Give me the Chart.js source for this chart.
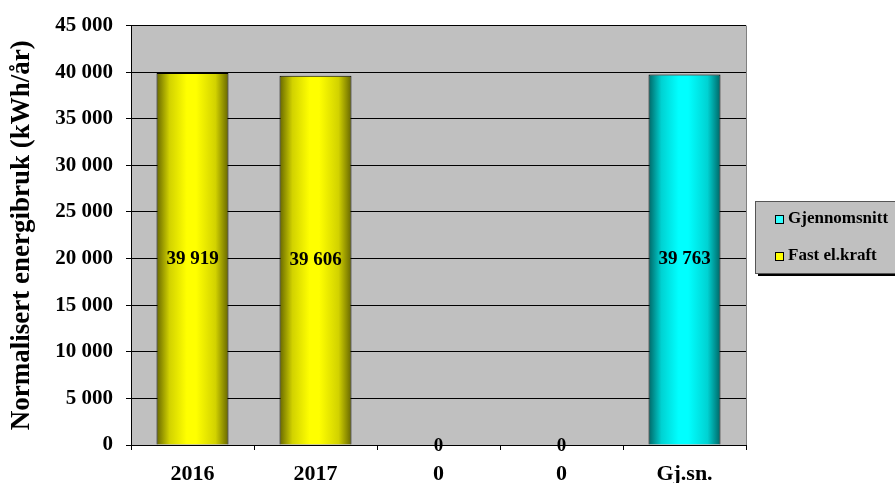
<!DOCTYPE html>
<html>
<head>
<meta charset="utf-8">
<script src="https://cdn.jsdelivr.net/npm/chart.js@4/dist/chart.umd.min.js"></script>
<style>
  html, body { margin: 0; padding: 0; background: #fff; }
  #wrap { width: 895px; height: 483px; }
</style>
</head>
<body>
<div id="wrap"><canvas id="chart" width="895" height="483"></canvas></div>
<script>
const categories = [`2016`, `2017`, `0`, `0`, `Gj.sn.`];
const fastElKraft = [39919, 39606, 0, 0, null];
const gjennomsnitt = [null, null, null, null, 39763];
const yTicks = [0, 5000, 10000, 15000, 20000, 25000, 30000, 35000, 40000, 45000];

const FONT = `"Liberation Serif", "Times New Roman", serif`;

const fmt = (v) => String(v).replace(/\B(?=(\d{3})+(?!\d))/g, ` `);

const cylinder = (ctx, x0, x1, dark, mid, light) => {
  const g = ctx.createLinearGradient(x0, 0, x1, 0);
  g.addColorStop(0, dark);
  g.addColorStop(0.18, mid);
  g.addColorStop(0.42, light);
  g.addColorStop(0.55, light);
  g.addColorStop(0.82, mid);
  g.addColorStop(1, dark);
  return g;
};

const shades = {
  yellow: [`#666600`, `#d2d200`, `#ffff00`],
  cyan: [`#006666`, `#00d2d2`, `#00ffff`]
};

// gray plot area, right border, cylinder shading per bar
const plotBg = {
  id: `plotBg`,
  beforeDraw(chart) {
    const {ctx, chartArea: a} = chart;
    ctx.save();
    ctx.fillStyle = `#c0c0c0`;
    ctx.fillRect(a.left, a.top, a.right - a.left, a.bottom - a.top);
    ctx.strokeStyle = `#808080`;
    ctx.lineWidth = 1;
    ctx.beginPath();
    ctx.moveTo(a.right + 0.5, a.top);
    ctx.lineTo(a.right + 0.5, a.bottom);
    ctx.stroke();
    ctx.restore();
  },
  beforeDatasetsDraw(chart) {
    const ctx = chart.ctx;
    chart.data.datasets.forEach((ds, i) => {
      const s = shades[ds.shade];
      chart.getDatasetMeta(i).data.forEach((el) => {
        const x0 = el.x - el.width / 2;
        // options can be shared + frozen, so give each bar its own copy
        el.options = Object.assign({}, el.options, {
          backgroundColor: cylinder(ctx, x0, x0 + el.width, s[0], s[1], s[2])
        });
      });
    });
  }
};

const valueLabels = {
  id: `valueLabels`,
  afterDatasetsDraw(chart) {
    const ctx = chart.ctx;
    ctx.save();
    ctx.font = `bold 19px ${FONT}`;
    ctx.fillStyle = `#000`;
    ctx.textAlign = `center`;
    ctx.textBaseline = `middle`;
    chart.data.datasets.forEach((ds, i) => {
      chart.getDatasetMeta(i).data.forEach((el, j) => {
        const v = ds.data[j];
        if (v === null) return;
        const y = v === 0 ? el.base + 1 : (el.y + el.base) / 2;
        ctx.fillText(fmt(v), el.x, y);
      });
    });
    ctx.restore();
  }
};

const boxLegend = {
  id: `boxLegend`,
  afterDraw(chart) {
    const ctx = chart.ctx;
    const x = 755, y = 201, w = 145, h = 72;
    ctx.save();
    ctx.fillStyle = `#000`;
    ctx.fillRect(x + 3, y + 3, w, h);
    ctx.fillStyle = `#c0c0c0`;
    ctx.fillRect(x, y, w, h);
    ctx.strokeStyle = `#555`;
    ctx.lineWidth = 1;
    ctx.strokeRect(x + 0.5, y + 0.5, w, h);
    ctx.font = `bold 17px ${FONT}`;
    ctx.textBaseline = `middle`;
    ctx.textAlign = `left`;
    const rows = [
      {label: chart.data.datasets[0].label, color: `#33ffff`, cy: 219},
      {label: chart.data.datasets[1].label, color: `#ffff00`, cy: 256}
    ];
    rows.forEach((r) => {
      ctx.fillStyle = r.color;
      ctx.fillRect(775, r.cy - 4, 8, 8);
      ctx.strokeStyle = `#000`;
      ctx.strokeRect(775.5, r.cy - 3.5, 8, 8);
      ctx.fillStyle = `#000`;
      ctx.fillText(r.label, 788, r.cy);
    });
    ctx.restore();
  }
};

new Chart(document.getElementById(`chart`), {
  type: `bar`,
  data: {
    labels: categories,
    datasets: [
      {
        label: `Gjennomsnitt`,
        data: gjennomsnitt,
        shade: `cyan`,
        backgroundColor: `#00ffff`,
        borderColor: `#000`,
        borderWidth: 1,
        barPercentage: 0.585,
        categoryPercentage: 1
      },
      {
        label: `Fast el.kraft`,
        data: fastElKraft,
        shade: `yellow`,
        backgroundColor: `#ffff00`,
        borderColor: `#000`,
        borderWidth: 1,
        barPercentage: 0.585,
        categoryPercentage: 1
      }
    ]
  },
  options: {
    responsive: false,
    animation: false,
    layout: {padding: {left: 6, top: 23, right: 149, bottom: 0}},
    plugins: {
      legend: {display: false},
      tooltip: {enabled: false}
    },
    scales: {
      x: {
        stacked: true,
        afterFit: (s) => { s.height = 38; },
        grid: {
          offset: true,
          drawOnChartArea: false,
          drawTicks: true,
          tickLength: 5,
          color: `#000`
        },
        border: {color: `#000`, width: 1},
        ticks: {
          color: `#000`,
          padding: 11,
          font: {family: FONT, size: 22, weight: `bold`}
        }
      },
      y: {
        stacked: true,
        min: 0,
        max: 45000,
        afterFit: (s) => { s.width = 125; },
        afterBuildTicks: (s) => { s.ticks = yTicks.map((v) => ({value: v})); },
        grid: {
          color: `#000`,
          lineWidth: 1,
          drawTicks: true,
          tickLength: 5
        },
        border: {color: `#000`, width: 1},
        ticks: {
          color: `#000`,
          padding: 13,
          font: {family: FONT, size: 21, weight: `bold`},
          callback: (v) => fmt(v)
        },
        title: {
          display: true,
          text: `Normalisert energibruk (kWh/år)`,
          color: `#000`,
          padding: {top: 0, bottom: 0},
          font: {family: FONT, size: 27, weight: `bold`}
        }
      }
    }
  },
  plugins: [plotBg, valueLabels, boxLegend]
});
</script>
</body>
</html>
